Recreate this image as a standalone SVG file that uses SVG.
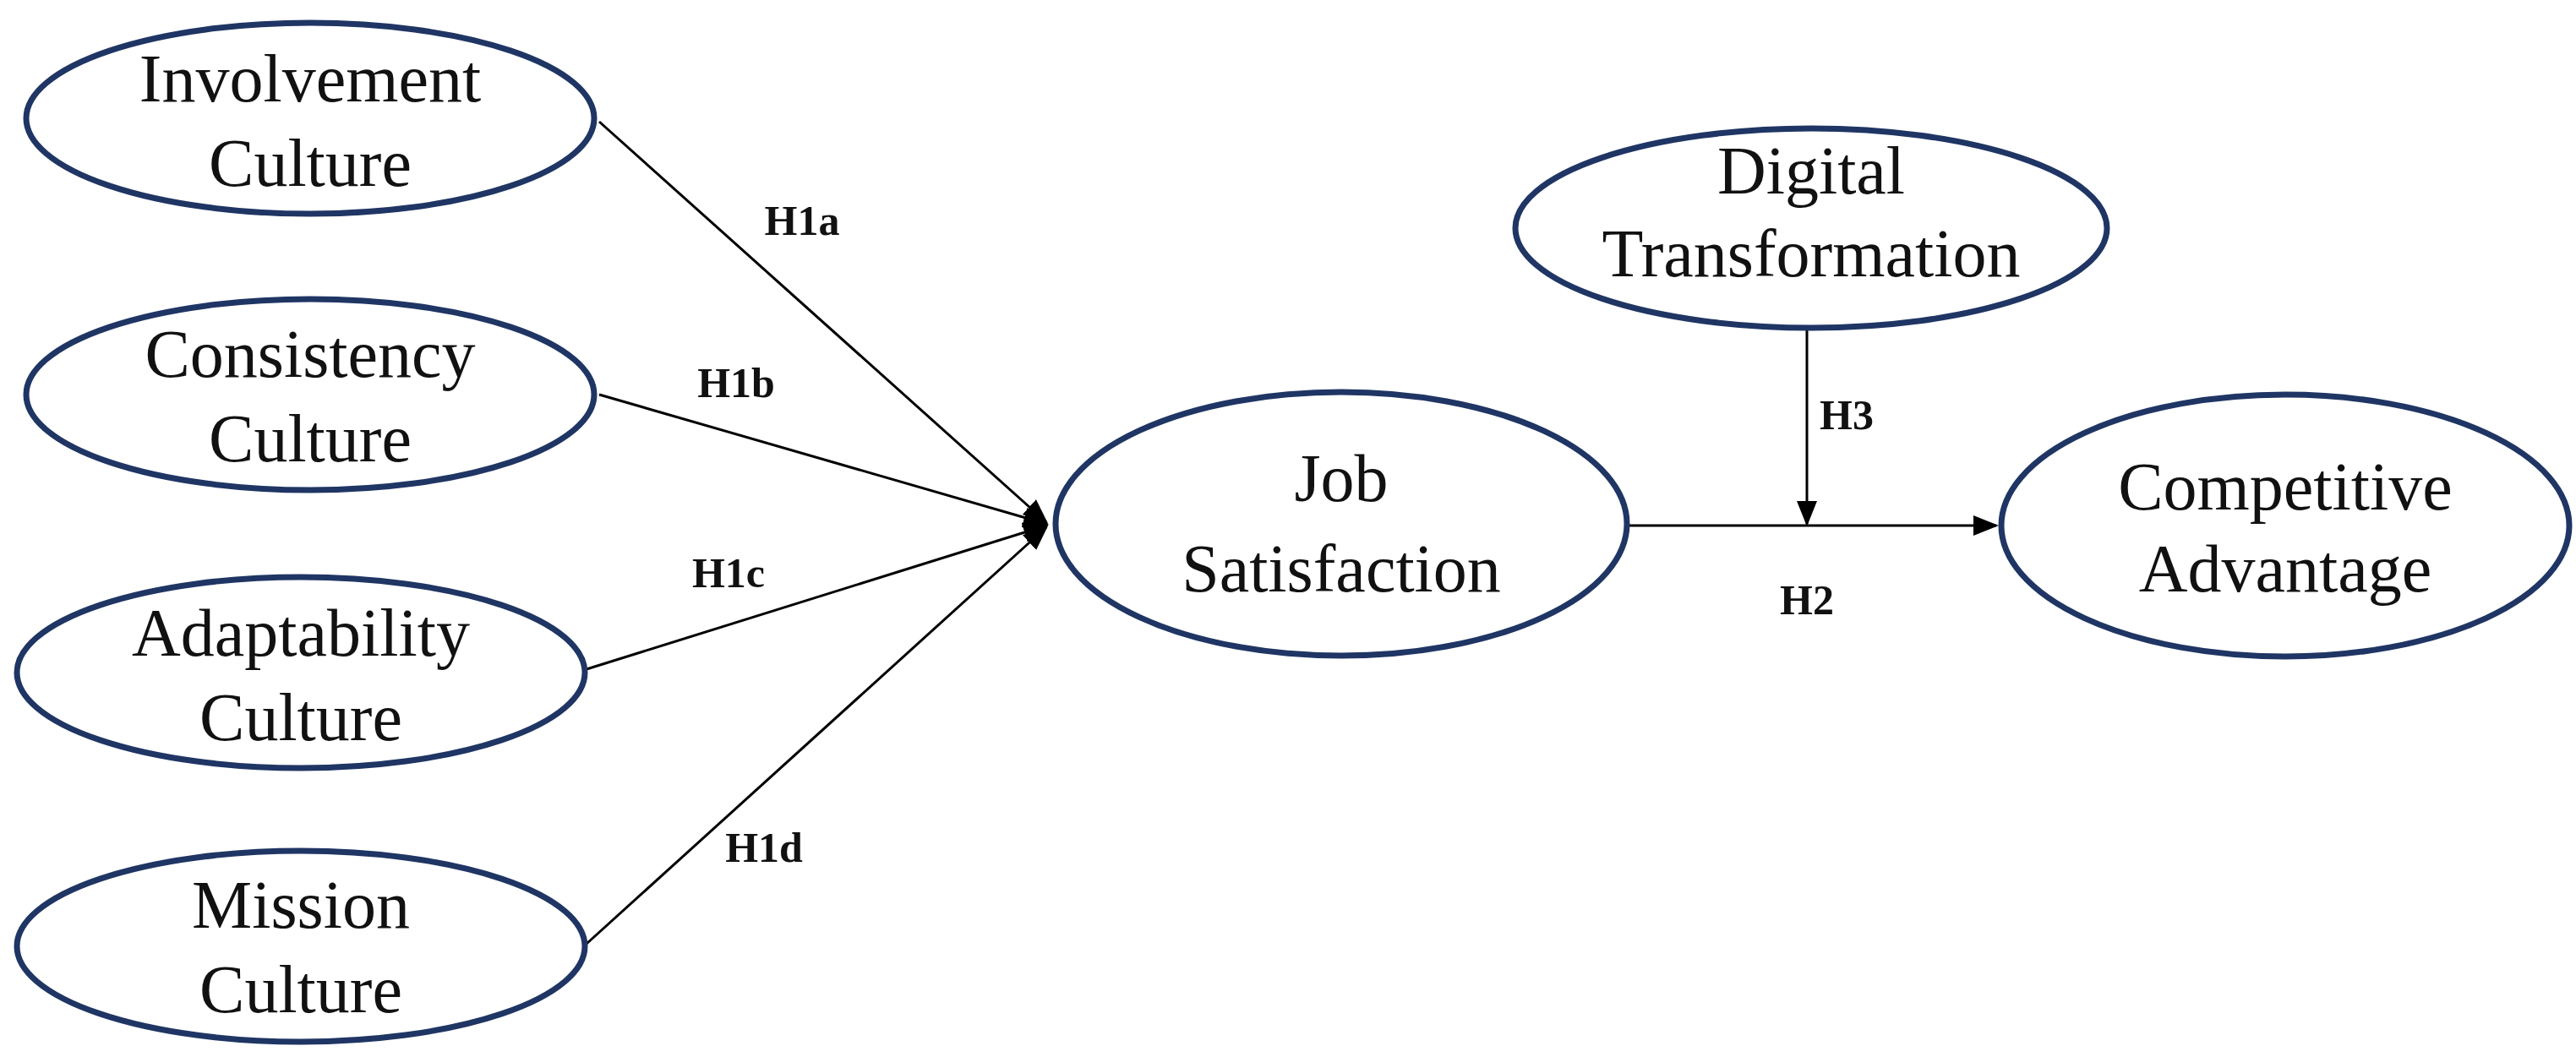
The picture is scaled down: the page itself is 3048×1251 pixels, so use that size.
<svg xmlns="http://www.w3.org/2000/svg" width="3048" height="1251" viewBox="0 0 3048 1251">
<style>
.n{fill:#fff;stroke:#1f3564;stroke-width:7}
.t{font-family:"Liberation Serif",serif;font-size:80px;fill:#111;text-anchor:middle}
.l{font-family:"Liberation Serif",serif;font-size:50px;font-weight:bold;fill:#111;text-anchor:middle}
.c{stroke:#000;stroke-width:3;fill:none;marker-end:url(#a)}
</style>
<defs><marker id="a" markerWidth="10" markerHeight="8" refX="9" refY="4" orient="auto" markerUnits="strokeWidth"><path d="M0,0L10,4L0,8z" fill="#000"/></marker></defs>
<rect width="3048" height="1251" fill="#fff"/>
<g id="connectors">
<line class="c" x1="709" y1="144" x2="1238" y2="618"/>
<line class="c" x1="709" y1="467" x2="1238" y2="620"/>
<line class="c" x1="694" y1="792" x2="1238" y2="622"/>
<line class="c" x1="694" y1="1117" x2="1238" y2="624"/>
<line class="c" x1="1925" y1="622" x2="2362" y2="622"/>
<line class="c" x1="2138" y1="389" x2="2138" y2="620"/>
<text class="l" x="949" y="278">H1a</text>
<text class="l" x="871" y="470">H1b</text>
<text class="l" x="862" y="695">H1c</text>
<text class="l" x="904" y="1020">H1d</text>
<text class="l" x="2185" y="508">H3</text>
<text class="l" x="2138" y="727">H2</text>
</g>
<g id="involvement"><ellipse class="n" cx="367" cy="140" rx="336" ry="113"/><text class="t" x="367" y="120">Involvement</text><text class="t" x="367" y="220">Culture</text></g>
<g id="consistency"><ellipse class="n" cx="367" cy="467" rx="336" ry="113"/><text class="t" x="367" y="446">Consistency</text><text class="t" x="367" y="546">Culture</text></g>
<g id="adaptability"><ellipse class="n" cx="356" cy="796" rx="336" ry="113"/><text class="t" x="356" y="776">Adaptability</text><text class="t" x="356" y="876">Culture</text></g>
<g id="mission"><ellipse class="n" cx="356" cy="1120" rx="336" ry="113"/><text class="t" x="356" y="1098">Mission</text><text class="t" x="356" y="1198">Culture</text></g>
<g id="job"><ellipse class="n" cx="1587" cy="620" rx="338" ry="156"/><text class="t" x="1587" y="593">Job</text><text class="t" x="1587" y="700">Satisfaction</text></g>
<g id="digital"><ellipse class="n" cx="2143" cy="270" rx="350" ry="118"/><text class="t" x="2143" y="229">Digital</text><text class="t" x="2143" y="327">Transformation</text></g>
<g id="competitive"><ellipse class="n" cx="2704" cy="622" rx="336" ry="155"/><text class="t" x="2704" y="603">Competitive</text><text class="t" x="2704" y="700">Advantage</text></g>
</svg>
